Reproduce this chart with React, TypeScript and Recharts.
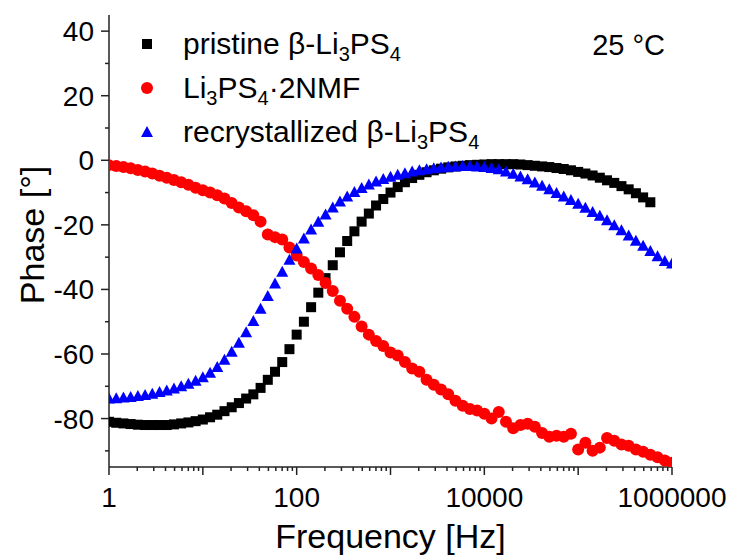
import { ScatterChart, Scatter, XAxis, YAxis } from 'recharts';

// frequency sweep, 13 points per decade, 1 Hz .. 1 MHz
const freq = [
  1, 1.194, 1.425, 1.701, 2.031, 2.424, 2.894, 3.455, 4.125, 4.924, 5.878, 7.017, 8.377,
  10, 11.94, 14.25, 17.01, 20.31, 24.24, 28.94, 34.55, 41.25, 49.24, 58.78, 70.17, 83.77,
  100, 119.4, 142.5, 170.1, 203.1, 242.4, 289.4, 345.5, 412.5, 492.4, 587.8, 701.7, 837.7,
  1000, 1194, 1425, 1701, 2031, 2424, 2894, 3455, 4125, 4924, 5878, 7017, 8377,
  10000, 11938, 14251, 17013, 20309, 24245, 28943, 34551, 41246, 49239, 58780, 70170, 83768,
  100000, 119378, 142510, 170125, 203092, 242446, 289427, 345511, 412463, 492388, 587802, 701704, 837678,
  1000000,
];

// phase [deg]
const pristine = [
  -81, -81.3, -81.5, -81.7, -81.9, -82, -82, -82, -82, -81.8, -81.5, -81.2, -80.8,
  -80.3, -79.6, -78.8, -77.7, -76.5, -75.2, -73.8, -72.5, -70.5, -68, -65.5, -62.5, -58.5,
  -54, -50, -45.5, -41, -36.5, -32.5, -28.5, -25, -22, -19, -16.5, -14, -12,
  -10, -8.3, -6.8, -5.5, -4.5, -3.7, -3.1, -2.6, -2.2, -1.9, -1.7, -1.5, -1.4,
  -1.3, -1.2, -1.2, -1.2, -1.2, -1.3, -1.5, -1.7, -1.9, -2.1, -2.4, -2.7, -3.1,
  -3.6, -4.1, -4.7, -5.4, -6.2, -7, -8, -9, -10.2, -11.5, -13, null, null, null,
];

const nmf = [
  -1.5, -1.8, -2.1, -2.5, -3, -3.5, -4.1, -4.8, -5.4, -6.1, -6.8, -7.6, -8.5,
  -9.3, -10, -10.8, -11.8, -13.2, -14.6, -15.8, -17, -19, -23, -23.8, -24.5, -27,
  -29.5, -31.5, -33.5, -35.5, -38, -40.5, -43.5, -46, -48.5, -51.5, -54, -56, -57.5,
  -59.5, -60.5, -62.5, -64.5, -65.5, -68, -69.5, -71, -72.5, -74.5, -76, -77, -77.5,
  -78.5, -80, -78, -81, -83, -82, -81.6, -82.5, -84.5, -85.6, -85.3, -85.6, -84.7,
  -89.6, -87.5, -90, -89, -86, -86.9, -88, -88.4, -89.6, -90.3, -91.2, -92, -93, -93.7,
];

const recryst = [
  -73.8, -73.7, -73.5, -73.3, -73, -72.7, -72.3, -71.8, -71.3, -70.7, -70, -69.2, -68.3,
  -67.2, -65.8, -64, -61.8, -59.3, -56.5, -53.3, -49.8, -46, -42, -38.2, -34.5, -30.8,
  -27.3, -24.2, -21.4, -19, -16.8, -14.6, -12.8, -11.2, -9.8, -8.6, -7.5, -6.6, -5.8,
  -5.1, -4.5, -4, -3.5, -3.1, -2.8, -2.5, -2.2, -2, -1.9, -1.8, -1.8, -1.9,
  -2.1, -2.4, -2.8, -3.5, -4.2, -5, -5.9, -6.9, -7.9, -9, -10.1, -11.2, -12.3,
  -13.5, -14.7, -16, -17.2, -18.6, -20.1, -21.7, -23.3, -24.9, -26.5, -28.1, -29.7, -31.2, -32,
];

const xDecades = [1, 10, 100, 1000, 10000, 100000, 1000000];
const xLabeled = [1, 100, 10000, 1000000];
const xMinorMult = [2, 3, 4, 5, 6, 7, 8, 9];
const yMajor = [40, 20, 0, -20, -40, -60, -80];
const yMinor = [30, 10, -10, -30, -50, -70, -90];

const FONT = '"Liberation Sans", Arial, Helvetica, sans-serif';
const AXIS = '#222';

const xTicks = [
  ...xDecades,
  ...xDecades.slice(0, -1).flatMap((d) => xMinorMult.map((m) => m * d)),
].sort((a, b) => a - b);
const yTicks = [...yMajor, ...yMinor].sort((a, b) => a - b);

const rows = (vals: (number | null)[]) =>
  freq.map((f, i) => ({ f, v: vals[i] })).filter((r) => r.v !== null);

const XTick = (p: any) => {
  const v = p.payload.value;
  const major = xDecades.includes(v);
  return (
    <g>
      <line x1={p.x} x2={p.x} y1={p.y} y2={p.y + (major ? 8 : 4)} stroke={AXIS} strokeWidth={1.5} />
      {xLabeled.includes(v) && (
        <text x={p.x} y={p.y + 40} textAnchor="middle" fontSize={28} fontFamily={FONT} fill="#000">
          {v}
        </text>
      )}
    </g>
  );
};

const YTick = (p: any) => {
  const v = p.payload.value;
  const major = yMajor.includes(v);
  return (
    <g>
      <line x1={p.x - (major ? 8 : 4)} x2={p.x} y1={p.y} y2={p.y} stroke={AXIS} strokeWidth={1.5} />
      {major && (
        <text x={p.x - 15} y={p.y + 10} textAnchor="end" fontSize={28} fontFamily={FONT} fill="#000">
          {v}
        </text>
      )}
    </g>
  );
};

const Square = (p: any) => <rect x={p.cx - 5} y={p.cy - 5} width={10} height={10} fill="#000" />;
const Dot = (p: any) => <circle cx={p.cx} cy={p.cy} r={6} fill="#ff0000" />;
const Tri = (p: any) => (
  <polygon
    points={`${p.cx},${p.cy - 6} ${p.cx + 6},${p.cy + 5} ${p.cx - 6},${p.cy + 5}`}
    fill="#0000ff"
  />
);

export default function App() {
  return (
    <div style={{ position: 'absolute', left: 0, top: 0, width: 733, height: 558, background: '#fff' }}>
      <ScatterChart width={733} height={558} margin={{ top: 15, right: 61, bottom: 0, left: 0 }}>
        <XAxis
          dataKey="f"
          type="number"
          scale="log"
          domain={[1, 1000000]}
          allowDataOverflow
          ticks={xTicks}
          interval={0}
          tickSize={0}
          tickMargin={0}
          tick={XTick}
          height={91}
          axisLine={{ stroke: AXIS, strokeWidth: 1.5 }}
          label={{ value: 'Frequency [Hz]', position: 'insideBottom', offset: 10, fontSize: 34, fill: '#000', fontFamily: FONT }}
        />
        <XAxis
          xAxisId="top"
          orientation="top"
          type="number"
          scale="log"
          domain={[1, 1000000]}
          allowDataOverflow
          height={0}
          tick={false}
          tickLine={false}
          axisLine={{ stroke: AXIS, strokeWidth: 1.5 }}
        />
        <YAxis
          dataKey="v"
          type="number"
          domain={[-95, 45]}
          allowDataOverflow
          ticks={yTicks}
          interval={0}
          tickSize={0}
          tickMargin={0}
          tick={YTick}
          width={109}
          axisLine={{ stroke: AXIS, strokeWidth: 1.5 }}
        />
        <YAxis
          yAxisId="right"
          orientation="right"
          type="number"
          domain={[-95, 45]}
          allowDataOverflow
          width={0}
          tick={false}
          tickLine={false}
          axisLine={{ stroke: AXIS, strokeWidth: 1.5 }}
        />
        <Scatter data={rows(pristine)} dataKey="v" shape={Square} isAnimationActive={false} />
        <Scatter data={rows(nmf)} dataKey="v" shape={Dot} isAnimationActive={false} />
        <Scatter data={rows(recryst)} dataKey="v" shape={Tri} isAnimationActive={false} />
      </ScatterChart>
      <svg
        width={733}
        height={558}
        style={{ position: 'absolute', left: 0, top: 0, pointerEvents: 'none' }}
        fontFamily={FONT}
        fill="#000"
      >
        <text transform="translate(44,235) rotate(-90)" textAnchor="middle" fontSize={34}>
          Phase [°]
        </text>
        <text x={665} y={55} textAnchor="end" fontSize={29}>25 °C</text>
        <rect x={142} y={39} width={10} height={10} fill="#000" />
        <text x={183} y={54} fontSize={30}>
          pristine β-Li<tspan fontSize={20} dy={7}>3</tspan>
          <tspan dy={-7}>PS</tspan>
          <tspan fontSize={20} dy={7}>4</tspan>
        </text>
        <circle cx={147} cy={88} r={6} fill="#ff0000" />
        <text x={183} y={98} fontSize={30}>
          Li<tspan fontSize={20} dy={7}>3</tspan>
          <tspan dy={-7}>PS</tspan>
          <tspan fontSize={20} dy={7}>4</tspan>
          <tspan dy={-7}>·2NMF</tspan>
        </text>
        <polygon points="147,126 153,137 141,137" fill="#0000ff" />
        <text x={183} y={142} fontSize={30}>
          recrystallized β-Li<tspan fontSize={20} dy={7}>3</tspan>
          <tspan dy={-7}>PS</tspan>
          <tspan fontSize={20} dy={7}>4</tspan>
        </text>
      </svg>
    </div>
  );
}
